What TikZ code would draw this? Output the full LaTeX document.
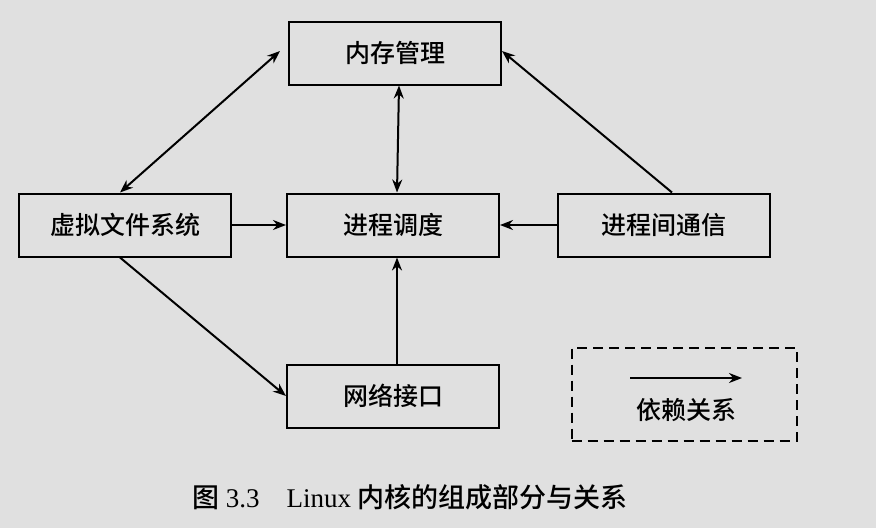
\documentclass[tikz,border=0pt]{standalone}
\usepackage{fontspec}
\setmainfont{Liberation Serif}
\newfontfamily\cjk{Noto Sans CJK SC Medium}
\usetikzlibrary{arrows.meta}
\begin{document}
\begin{tikzpicture}[x=1pt,y=-1pt,
  box/.style={draw,line width=2pt,minimum width=212pt,minimum height=63pt,font=\cjk\fontsize{25}{28}\selectfont},
  arr/.style={line width=2pt,-{Stealth[length=13pt,width=10pt]}},
  darr/.style={line width=2pt,{Stealth[length=13pt,width=10pt]}-{Stealth[length=13pt,width=10pt]}}]
\fill[black!12] (0,0) rectangle (876,528);
\useasboundingbox (0,0) rectangle (876,528);
\node[box] (mem) at (395,53) {内存管理};
\node[box] (sched) at (393,225) {进程调度};
\node[box] (vfs) at (125,225) {虚拟文件系统};
\node[box] (ipc) at (664,225) {进程间通信};
\node[box] (net) at (393,396) {网络接口};
\draw[darr] ([xshift=-5pt]vfs.north) -- ([xshift=-8pt,yshift=2pt]mem.west);
\draw[darr] ([xshift=4pt]mem.south) -- ([xshift=4pt]sched.north);
\draw[arr] (vfs.east) -- (sched.west);
\draw[arr] (ipc.west) -- (sched.east);
\draw[arr] ([xshift=8pt]ipc.north) -- ([yshift=2pt]mem.east);
\draw[arr] ([xshift=-5pt]vfs.south) -- (net.west);
\draw[arr] ([xshift=4pt]net.north) -- ([xshift=4pt]sched.south);
\node[draw,dash pattern=on 10pt off 6pt,line width=2pt,minimum width=225pt,minimum height=93pt] (legend) at (684,394) {};
\coordinate (l1) at (630,378);
\coordinate (l2) at (742,378);
\draw[arr] (l1) -- (l2);
\node[font=\cjk\fontsize{25}{28}\selectfont] (ltext) at (686,410) {依赖关系};
\node[font=\fontsize{27}{30}\selectfont] (cap) at (410,497) {{\cjk 图} 3.3\quad Linux {\cjk 内核的组成部分与关系}};
\end{tikzpicture}
\end{document}
